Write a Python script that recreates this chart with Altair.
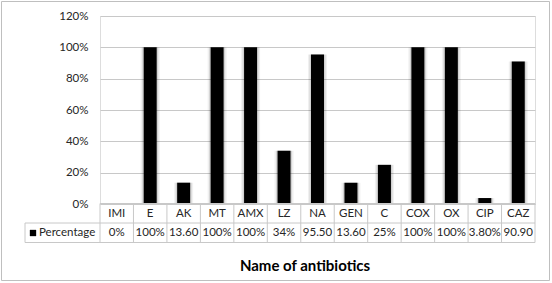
import altair as alt
import pandas as pd

categories = ["IMI", "E", "AK", "MT", "AMX", "LZ", "NA", "GEN", "C", "COX", "OX", "CIP", "CAZ"]
values = [0, 100, 13.6, 100, 100, 34, 95.5, 13.6, 25, 100, 100, 3.8, 90.9]
table_labels = ["0%", "100%", "13.60", "100%", "100%", "34%", "95.50", "13.60", "25%", "100%", "100%", "3.80%", "90.90"]
y_ticks = [0, 20, 40, 60, 80, 100, 120]
series_name = "Percentage"
x_title = "Name of antibiotics"

df = pd.DataFrame({"cat": categories, "val": values, "lab": table_labels})
one = pd.DataFrame({"k": [0]})

FONT = "Lato"
W, H = 435, 188
GRID = "#c8c8c8"

xs = alt.X("cat:N", sort=categories, axis=None,
           scale=alt.Scale(paddingInner=0, paddingOuter=0))
ys = alt.Y("val:Q", scale=alt.Scale(domain=[0, 120], nice=False),
           axis=alt.Axis(values=y_ticks, labelExpr="datum.value + '%'", title=None,
                         domain=False, ticks=False, labelPadding=12,
                         labelFont=FONT, labelFontSize=11.5, labelColor="#262626",
                         gridColor=GRID, gridWidth=1))

base = alt.Chart(df)

shadow1 = base.mark_bar(size=19, color="#000", opacity=0.06).encode(x=xs, y=ys)
shadow2 = base.mark_bar(size=16, color="#000", opacity=0.12).encode(x=xs, y=ys)
bars = base.mark_bar(size=13, color="#000").encode(x=xs, y=ys)

hdr_top, hdr_mid, row_bot = H - 0.5, H + 19, H + 38.5

vlines = base.mark_rule(color=GRID, strokeWidth=1).encode(
    x=alt.X("cat:N", sort=categories, bandPosition=0),
    y=alt.value(hdr_top), y2=alt.value(row_bot))
vline_end = alt.Chart(one).mark_rule(color=GRID).encode(
    x=alt.value(W), y=alt.value(hdr_top), y2=alt.value(row_bot))
vline_left = alt.Chart(one).mark_rule(color=GRID).encode(
    x=alt.value(-75), y=alt.value(hdr_mid), y2=alt.value(row_bot))
hline_top = alt.Chart(one).mark_rule(color=GRID).encode(
    x=alt.value(0), x2=alt.value(W), y=alt.value(hdr_top))
hline_mid = alt.Chart(one).mark_rule(color=GRID).encode(
    x=alt.value(-75), x2=alt.value(W), y=alt.value(hdr_mid))
hline_bot = alt.Chart(one).mark_rule(color=GRID).encode(
    x=alt.value(-75), x2=alt.value(W), y=alt.value(row_bot))

hdr_text = base.mark_text(font=FONT, fontSize=11.5, color="#262626").encode(
    x=alt.X("cat:N", sort=categories, bandPosition=0.5), y=alt.value(H + 9.5), text="cat:N")
val_text = base.mark_text(font=FONT, fontSize=11.5, color="#262626").encode(
    x=alt.X("cat:N", sort=categories, bandPosition=0.5), y=alt.value(H + 29), text="lab:N")

legend_sq = alt.Chart(one).mark_square(color="#000", size=40, opacity=1).encode(
    x=alt.value(-67), y=alt.value(H + 29))
legend_txt = alt.Chart(one).mark_text(font=FONT, fontSize=11.5, color="#262626", align="left").encode(
    x=alt.value(-61), y=alt.value(H + 29), text=alt.value(series_name))

title_txt = alt.Chart(one).mark_text(font=FONT, fontSize=15, fontWeight="bold", color="#000").encode(
    x=alt.value(205), y=alt.value(250), text=alt.value(x_title))

border = alt.Chart(one).mark_rect(filled=False, stroke="#bfbfbf", strokeWidth=1).encode(
    x=alt.value(-98.5), x2=alt.value(449.5), y=alt.value(-14.5), y2=alt.value(264.5))

chart = alt.layer(
    border, shadow1, shadow2, bars,
    vlines, vline_end, vline_left, hline_top, hline_mid, hline_bot,
    hdr_text, val_text, legend_sq, legend_txt, title_txt
).properties(
    width=W, height=H,
    autosize=alt.AutoSizeParams(type="none"),
    padding={"left": 100, "top": 16, "right": 17, "bottom": 79},
).configure_view(stroke=None).configure(background="white")

chart.save("out.html", embed_options={"renderer": "svg", "actions": False})
